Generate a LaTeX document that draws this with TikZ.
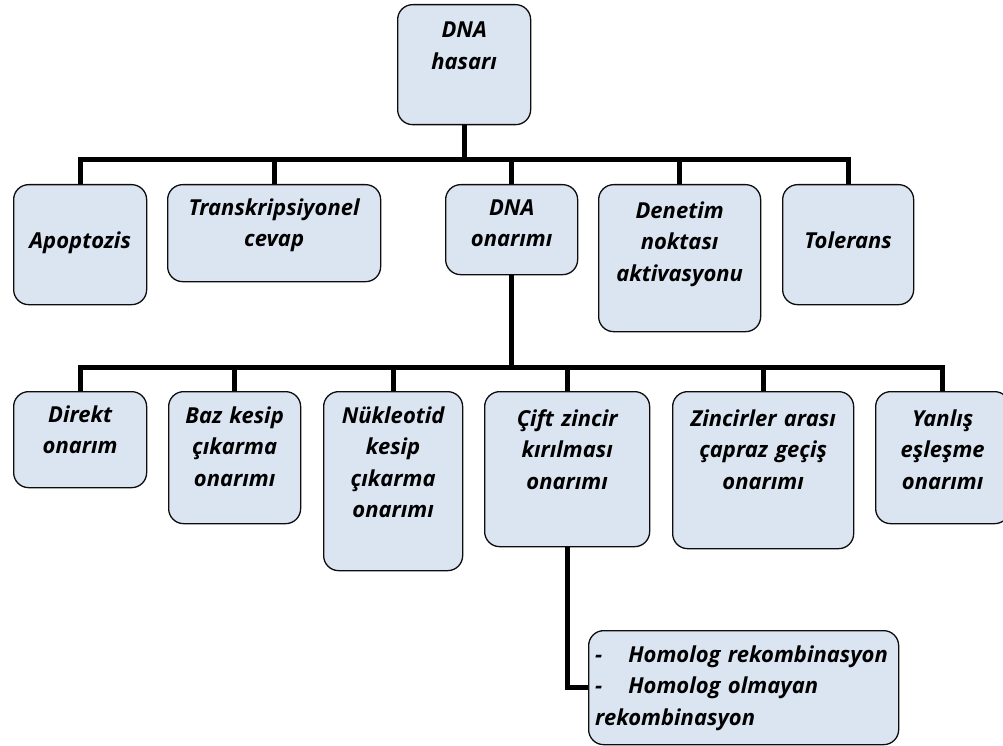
\documentclass[tikz,border=0pt]{standalone}
\usepackage{fontspec}
\setmainfont{Open Sans}
\usetikzlibrary{positioning}
\definecolor{ink}{gray}{0.05}
\definecolor{boxfill}{HTML}{DBE5F1}

\tikzset{
  box/.style={draw=ink, fill=boxfill, line width=1.3pt, rounded corners=15pt,
    anchor=north west, inner sep=0pt},
  txt/.style={font=\fontsize{22}{31.5}\selectfont\bfseries\itshape,
    align=center, anchor=base, inner sep=0pt},
  conn/.style={draw=black, line width=5pt},
}

\begin{document}
\begin{tikzpicture}[x=1pt,y=-1pt]
  \useasboundingbox (0,0) rectangle (1003,746);
  \coordinate (bar1) at (0,160);
  \coordinate (bar2) at (0,367);

  % top
  \node[box, minimum width=133pt, minimum height=120pt] (hasar) at (397,4) {};
  \node[txt, text width=133pt, yshift=-34pt] (hasar-t) at (hasar.north) {DNA\\hasarı};

  % first row
  \node[box, minimum width=133pt, minimum height=120pt] (apop) at (13,184) {};
  \node[box, minimum width=213pt, minimum height=97pt] (trans) at (167,184) {};
  \node[box, minimum width=132pt, minimum height=90pt] (onarim) at (445,184) {};
  \node[box, minimum width=162pt, minimum height=147pt] (denetim) at (598,184) {};
  \node[box, minimum width=131pt, minimum height=120pt] (tol) at (782,184) {};

  \node[txt, text width=133pt, yshift=-64pt] (apop-t) at (apop.north) {Apoptozis};
  \node[txt, text width=213pt, yshift=-31pt] (trans-t) at (trans.north) {Transkripsiyonel\\cevap};
  \node[txt, text width=132pt, yshift=-31pt] (onarim-t) at (onarim.north) {DNA\\onarımı};
  \node[txt, text width=162pt, yshift=-34pt] (denetim-t) at (denetim.north) {Denetim\\noktası\\aktivasyonu};
  \node[txt, text width=131pt, yshift=-64pt] (tol-t) at (tol.north) {Tolerans};

  % second row
  \node[box, minimum width=133pt, minimum height=96pt] (direkt) at (13,391) {};
  \node[box, minimum width=132pt, minimum height=132pt] (baz) at (168,391) {};
  \node[box, minimum width=139pt, minimum height=179pt] (nuk) at (323,391) {};
  \node[box, minimum width=165pt, minimum height=155pt] (cift) at (484,391) {};
  \node[box, minimum width=181pt, minimum height=157pt] (zinc) at (672,391) {};
  \node[box, minimum width=134pt, minimum height=132pt] (yanlis) at (875,391) {};

  \node[txt, text width=133pt, yshift=-31pt] (direkt-t) at (direkt.north) {Direkt\\onarım};
  \node[txt, text width=132pt, yshift=-32pt] (baz-t) at (baz.north) {Baz kesip\\çıkarma\\onarımı};
  \node[txt, text width=139pt, yshift=-32pt] (nuk-t) at (nuk.north) {Nükleotid\\kesip\\çıkarma\\onarımı};
  \node[txt, text width=165pt, yshift=-35pt] (cift-t) at (cift.north) {Çift zincir\\kırılması\\onarımı};
  \node[txt, text width=181pt, yshift=-35pt] (zinc-t) at (zinc.north) {Zincirler arası\\çapraz geçiş\\onarımı};
  \node[txt, text width=134pt, yshift=-35pt] (yanlis-t) at (yanlis.north) {Yanlış\\eşleşme\\onarımı};

  % recombination box
  \node[box, minimum width=310pt, minimum height=114pt] (homolog) at (588,630) {};
  \node[txt, text width=300pt, align=left, anchor=base west, xshift=7pt, yshift=-32pt] (homolog-t)
    at (homolog.north west) {-\hspace{26pt}Homolog rekombinasyon\\-\hspace{26pt}Homolog olmayan\\rekombinasyon};

  % connectors
  \foreach \c in {apop,trans,onarim,denetim,tol}
    \draw[conn] (hasar.south) -- (hasar.south |- bar1) -| (\c.north);
  \foreach \c in {direkt,baz,nuk,cift,zinc,yanlis}
    \draw[conn] (onarim.south) -- (onarim.south |- bar2) -| (\c.north);
  \draw[conn] (cift.south) |- (homolog.west);
\end{tikzpicture}
\end{document}
